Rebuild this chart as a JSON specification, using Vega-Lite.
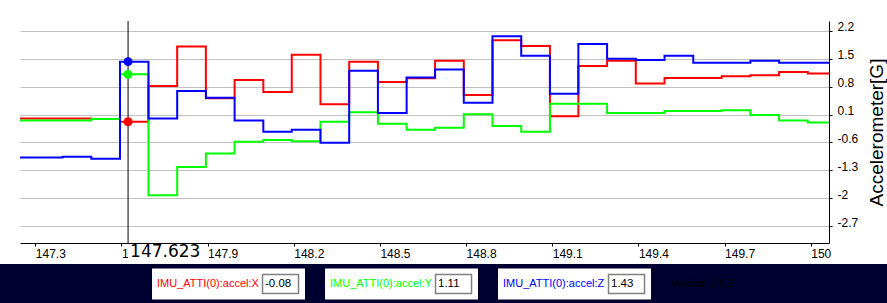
{
  "$schema": "https://vega.github.io/schema/vega-lite/v6.json",
  "padding": {"top": 20, "left": 0, "right": 0, "bottom": 0},
  "background": "white",
  "spacing": 0,
  "config": {"view": {"stroke": null}, "font": "Liberation Sans"},
  "datasets": {
    "series": [
      {"s": "IMU_ATTI(0):accel:X", "t": 147.195, "v": 0.0},
      {"s": "IMU_ATTI(0):accel:X", "t": 147.395, "v": 0.0},
      {"s": "IMU_ATTI(0):accel:X", "t": 147.495, "v": -0.01},
      {"s": "IMU_ATTI(0):accel:X", "t": 147.595, "v": -0.08},
      {"s": "IMU_ATTI(0):accel:X", "t": 147.694, "v": 0.82},
      {"s": "IMU_ATTI(0):accel:X", "t": 147.794, "v": 1.81},
      {"s": "IMU_ATTI(0):accel:X", "t": 147.894, "v": 0.51},
      {"s": "IMU_ATTI(0):accel:X", "t": 147.994, "v": 0.97},
      {"s": "IMU_ATTI(0):accel:X", "t": 148.094, "v": 0.67},
      {"s": "IMU_ATTI(0):accel:X", "t": 148.193, "v": 1.6},
      {"s": "IMU_ATTI(0):accel:X", "t": 148.293, "v": 0.36},
      {"s": "IMU_ATTI(0):accel:X", "t": 148.393, "v": 1.43},
      {"s": "IMU_ATTI(0):accel:X", "t": 148.493, "v": 0.92},
      {"s": "IMU_ATTI(0):accel:X", "t": 148.593, "v": 1.01},
      {"s": "IMU_ATTI(0):accel:X", "t": 148.692, "v": 1.45},
      {"s": "IMU_ATTI(0):accel:X", "t": 148.792, "v": 0.59},
      {"s": "IMU_ATTI(0):accel:X", "t": 148.892, "v": 1.97},
      {"s": "IMU_ATTI(0):accel:X", "t": 148.992, "v": 1.82},
      {"s": "IMU_ATTI(0):accel:X", "t": 149.092, "v": 0.06},
      {"s": "IMU_ATTI(0):accel:X", "t": 149.191, "v": 1.32},
      {"s": "IMU_ATTI(0):accel:X", "t": 149.291, "v": 1.45},
      {"s": "IMU_ATTI(0):accel:X", "t": 149.391, "v": 0.88},
      {"s": "IMU_ATTI(0):accel:X", "t": 149.491, "v": 1.02},
      {"s": "IMU_ATTI(0):accel:X", "t": 149.591, "v": 1.02},
      {"s": "IMU_ATTI(0):accel:X", "t": 149.69, "v": 1.06},
      {"s": "IMU_ATTI(0):accel:X", "t": 149.79, "v": 1.09},
      {"s": "IMU_ATTI(0):accel:X", "t": 149.89, "v": 1.17},
      {"s": "IMU_ATTI(0):accel:X", "t": 149.99, "v": 1.13},
      {"s": "IMU_ATTI(0):accel:X", "t": 150.1, "v": 1.13},
      {"s": "IMU_ATTI(0):accel:Y", "t": 147.195, "v": -0.05},
      {"s": "IMU_ATTI(0):accel:Y", "t": 147.395, "v": -0.05},
      {"s": "IMU_ATTI(0):accel:Y", "t": 147.495, "v": -0.01},
      {"s": "IMU_ATTI(0):accel:Y", "t": 147.595, "v": 1.11},
      {"s": "IMU_ATTI(0):accel:Y", "t": 147.694, "v": -1.93},
      {"s": "IMU_ATTI(0):accel:Y", "t": 147.794, "v": -1.22},
      {"s": "IMU_ATTI(0):accel:Y", "t": 147.894, "v": -0.88},
      {"s": "IMU_ATTI(0):accel:Y", "t": 147.994, "v": -0.58},
      {"s": "IMU_ATTI(0):accel:Y", "t": 148.094, "v": -0.54},
      {"s": "IMU_ATTI(0):accel:Y", "t": 148.193, "v": -0.57},
      {"s": "IMU_ATTI(0):accel:Y", "t": 148.293, "v": -0.08},
      {"s": "IMU_ATTI(0):accel:Y", "t": 148.393, "v": 0.16},
      {"s": "IMU_ATTI(0):accel:Y", "t": 148.493, "v": -0.13},
      {"s": "IMU_ATTI(0):accel:Y", "t": 148.593, "v": -0.28},
      {"s": "IMU_ATTI(0):accel:Y", "t": 148.692, "v": -0.23},
      {"s": "IMU_ATTI(0):accel:Y", "t": 148.792, "v": 0.11},
      {"s": "IMU_ATTI(0):accel:Y", "t": 148.892, "v": -0.19},
      {"s": "IMU_ATTI(0):accel:Y", "t": 148.992, "v": -0.33},
      {"s": "IMU_ATTI(0):accel:Y", "t": 149.092, "v": 0.37},
      {"s": "IMU_ATTI(0):accel:Y", "t": 149.191, "v": 0.37},
      {"s": "IMU_ATTI(0):accel:Y", "t": 149.291, "v": 0.14},
      {"s": "IMU_ATTI(0):accel:Y", "t": 149.391, "v": 0.14},
      {"s": "IMU_ATTI(0):accel:Y", "t": 149.491, "v": 0.19},
      {"s": "IMU_ATTI(0):accel:Y", "t": 149.591, "v": 0.19},
      {"s": "IMU_ATTI(0):accel:Y", "t": 149.69, "v": 0.21},
      {"s": "IMU_ATTI(0):accel:Y", "t": 149.79, "v": 0.09},
      {"s": "IMU_ATTI(0):accel:Y", "t": 149.89, "v": -0.05},
      {"s": "IMU_ATTI(0):accel:Y", "t": 149.99, "v": -0.1},
      {"s": "IMU_ATTI(0):accel:Y", "t": 150.1, "v": -0.1},
      {"s": "IMU_ATTI(0):accel:Z", "t": 147.195, "v": -0.98},
      {"s": "IMU_ATTI(0):accel:Z", "t": 147.395, "v": -0.96},
      {"s": "IMU_ATTI(0):accel:Z", "t": 147.495, "v": -1.01},
      {"s": "IMU_ATTI(0):accel:Z", "t": 147.595, "v": 1.43},
      {"s": "IMU_ATTI(0):accel:Z", "t": 147.694, "v": 0.0},
      {"s": "IMU_ATTI(0):accel:Z", "t": 147.794, "v": 0.69},
      {"s": "IMU_ATTI(0):accel:Z", "t": 147.894, "v": 0.52},
      {"s": "IMU_ATTI(0):accel:Z", "t": 147.994, "v": -0.05},
      {"s": "IMU_ATTI(0):accel:Z", "t": 148.094, "v": -0.33},
      {"s": "IMU_ATTI(0):accel:Z", "t": 148.193, "v": -0.28},
      {"s": "IMU_ATTI(0):accel:Z", "t": 148.293, "v": -0.61},
      {"s": "IMU_ATTI(0):accel:Z", "t": 148.393, "v": 1.2},
      {"s": "IMU_ATTI(0):accel:Z", "t": 148.493, "v": 0.14},
      {"s": "IMU_ATTI(0):accel:Z", "t": 148.593, "v": 1.03},
      {"s": "IMU_ATTI(0):accel:Z", "t": 148.692, "v": 1.23},
      {"s": "IMU_ATTI(0):accel:Z", "t": 148.792, "v": 0.4},
      {"s": "IMU_ATTI(0):accel:Z", "t": 148.892, "v": 2.07},
      {"s": "IMU_ATTI(0):accel:Z", "t": 148.992, "v": 1.58},
      {"s": "IMU_ATTI(0):accel:Z", "t": 149.092, "v": 0.62},
      {"s": "IMU_ATTI(0):accel:Z", "t": 149.191, "v": 1.87},
      {"s": "IMU_ATTI(0):accel:Z", "t": 149.291, "v": 1.5},
      {"s": "IMU_ATTI(0):accel:Z", "t": 149.391, "v": 1.47},
      {"s": "IMU_ATTI(0):accel:Z", "t": 149.491, "v": 1.58},
      {"s": "IMU_ATTI(0):accel:Z", "t": 149.591, "v": 1.4},
      {"s": "IMU_ATTI(0):accel:Z", "t": 149.69, "v": 1.4},
      {"s": "IMU_ATTI(0):accel:Z", "t": 149.79, "v": 1.45},
      {"s": "IMU_ATTI(0):accel:Z", "t": 149.89, "v": 1.4},
      {"s": "IMU_ATTI(0):accel:Z", "t": 149.99, "v": 1.4},
      {"s": "IMU_ATTI(0):accel:Z", "t": 150.1, "v": 1.4}
    ],
    "cursor": [{"t": 147.623, "label": "147.623"}],
    "readout": [
      {"s": "IMU_ATTI(0):accel:X", "t": 147.623, "v": -0.08, "val": "-0.08"},
      {"s": "IMU_ATTI(0):accel:Y", "t": 147.623, "v": 1.11, "val": "1.11"},
      {"s": "IMU_ATTI(0):accel:Z", "t": 147.623, "v": 1.43, "val": "1.43"}
    ],
    "version": [{"s": "Version 3.6.2"}],
    "band": [{"name": "status bar"}]
  },
  "vconcat": [
    {
      "width": 809,
      "height": 222,
      "resolve": {"axis": {"y": "independent"}},
      "layer": [
        {
          "data": {"name": "series"},
          "mark": {"type": "line", "interpolate": "step-after", "strokeWidth": 2, "clip": true},
          "encoding": {
            "x": {
              "field": "t", "type": "quantitative",
              "scale": {"domain": [147.2467, 150.0637], "nice": false, "zero": false},
              "axis": {
                "values": [147.3, 147.6, 147.9, 148.2, 148.5, 148.8, 149.1, 149.4, 149.7, 150],
                "labelExpr": "'' + datum.value",
                "labelAlign": "left", "labelBaseline": "top", "labelPadding": 2,
                "labelFont": "Liberation Sans", "labelFontSize": 12, "labelColor": "black",
                "labelFlush": false, "labelOverlap": false,
                "tickSize": 3, "tickColor": "black", "domainColor": "black", "domainWidth": 1,
                "grid": false, "title": null
              }
            },
            "y": {
              "field": "v", "type": "quantitative",
              "scale": {"domain": [-3.127, 2.451], "nice": false, "zero": false},
              "axis": {
                "orient": "right",
                "values": [2.2, 1.5, 0.8, 0.1, -0.6, -1.3, -2, -2.7],
                "labelExpr": "'' + datum.value",
                "grid": true, "gridColor": "#c0c0c0", "gridWidth": 1,
                "domainColor": "black", "domainWidth": 1,
                "tickColor": "black", "tickSize": 3,
                "labelColor": "black", "labelFont": "Liberation Sans", "labelFontSize": 12,
                "labelBaseline": "alphabetic", "labelPadding": 5,
                "labelFlush": false, "labelOverlap": false,
                "title": "Accelerometer[G]", "titleFont": "Liberation Sans", "titleFontSize": 19,
                "titleFontWeight": "normal", "titleColor": "black", "titleAngle": 270,
                "titleBaseline": "top", "titlePadding": 10
              }
            },
            "color": {
              "field": "s", "type": "nominal",
              "scale": {"domain": ["IMU_ATTI(0):accel:X", "IMU_ATTI(0):accel:Y", "IMU_ATTI(0):accel:Z"], "range": ["#ff0000", "#00ff00", "#0000ff"]},
              "legend": null
            }
          }
        },
        {
          "data": {"name": "cursor"},
          "mark": {"type": "rule", "color": "black", "strokeWidth": 1},
          "encoding": {"x": {"field": "t", "type": "quantitative"}}
        },
        {
          "data": {"name": "readout"},
          "mark": {"type": "point", "shape": "circle", "filled": true, "size": 80, "opacity": 1},
          "encoding": {
            "x": {"field": "t", "type": "quantitative"},
            "y": {
              "field": "v", "type": "quantitative",
              "axis": {"orient": "left", "labels": false, "ticks": false, "domain": false, "grid": false, "title": null, "minExtent": 20, "maxExtent": 20}
            },
            "color": {"field": "s", "type": "nominal", "legend": null}
          }
        },
        {
          "data": {"name": "cursor"},
          "mark": {"type": "rect", "fill": "white", "width": 71, "height": 20, "xOffset": 35.5, "clip": false},
          "encoding": {
            "x": {"field": "t", "type": "quantitative"},
            "y": {"datum": -3.403, "type": "quantitative", "axis": null}
          }
        },
        {
          "data": {"name": "cursor"},
          "mark": {"type": "text", "align": "left", "baseline": "middle", "dx": 2, "font": "DejaVu Sans", "fontSize": 17, "color": "black", "clip": false},
          "encoding": {
            "x": {"field": "t", "type": "quantitative"},
            "y": {"datum": -3.35, "type": "quantitative", "axis": null},
            "text": {"field": "label"}
          }
        }
      ]
    },
    {
      "width": 867,
      "height": 40,
      "view": {"fill": "#000030", "stroke": null},
      "layer": [
        {
          "data": {"name": "band"},
          "mark": {"type": "rect", "fill": "#000030", "xOffset": -20, "clip": false},
          "encoding": {
            "x": {"value": 0},
            "x2": {"value": "width"},
            "y": {"value": 0},
            "y2": {"value": "height"}
          }
        },
        {
          "data": {"name": "readout"},
          "mark": {"type": "rect", "fill": "white", "height": 31},
          "encoding": {
            "x": {
              "field": "s", "type": "nominal",
              "scale": {"type": "band", "domain": ["IMU_ATTI(0):accel:X", "IMU_ATTI(0):accel:Y", "IMU_ATTI(0):accel:Z", "Version 3.6.2"], "paddingInner": 0.1156, "paddingOuter": 0.5636, "align": 0.677},
              "axis": null
            },
            "y": {"datum": 0.5, "type": "quantitative", "scale": {"domain": [0, 1]}, "axis": null}
          }
        },
        {
          "data": {"name": "readout"},
          "mark": {"type": "text", "align": "left", "baseline": "middle", "dx": 5, "fontSize": 11, "font": "Liberation Sans"},
          "encoding": {
            "x": {"field": "s", "type": "nominal", "bandPosition": 0},
            "y": {"datum": 0.5, "type": "quantitative"},
            "text": {"field": "s"},
            "color": {
              "field": "s", "type": "nominal",
              "scale": {"domain": ["IMU_ATTI(0):accel:X", "IMU_ATTI(0):accel:Y", "IMU_ATTI(0):accel:Z"], "range": ["#ff0000", "#00ff00", "#0000ff"]},
              "legend": null
            }
          }
        },
        {
          "data": {"name": "readout"},
          "mark": {"type": "rect", "fill": "white", "stroke": "#808080", "strokeWidth": 1.5, "width": 36, "height": 19, "xOffset": 52},
          "encoding": {
            "x": {"field": "s", "type": "nominal"},
            "y": {"datum": 0.5, "type": "quantitative"}
          }
        },
        {
          "data": {"name": "readout"},
          "mark": {"type": "text", "align": "left", "baseline": "middle", "dx": 113, "fontSize": 11.5, "font": "Liberation Sans", "color": "black"},
          "encoding": {
            "x": {"field": "s", "type": "nominal", "bandPosition": 0},
            "y": {"datum": 0.5, "type": "quantitative"},
            "text": {"field": "val"}
          }
        },
        {
          "data": {"name": "version"},
          "mark": {"type": "text", "align": "left", "baseline": "middle", "dx": 0, "fontSize": 11, "font": "Liberation Sans", "color": "black"},
          "encoding": {
            "x": {"field": "s", "type": "nominal", "bandPosition": 0},
            "y": {"datum": 0.5, "type": "quantitative"},
            "text": {"field": "s"}
          }
        }
      ]
    }
  ]
}
